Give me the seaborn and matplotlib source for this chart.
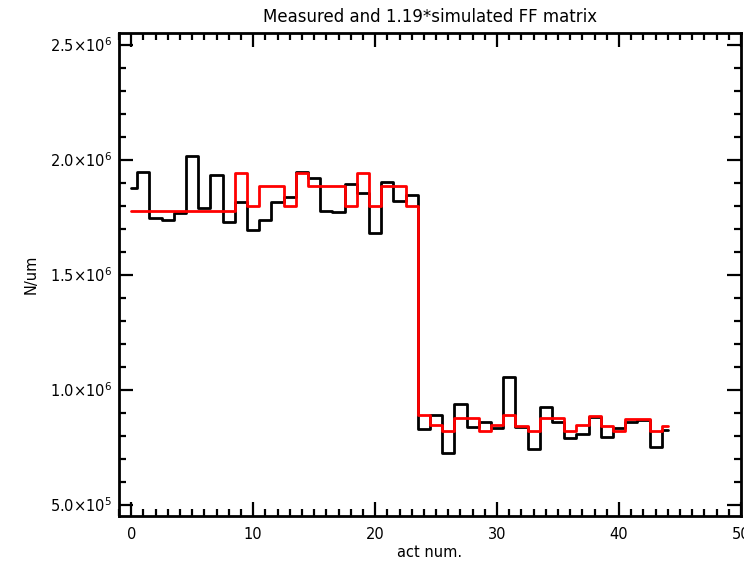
import matplotlib
matplotlib.use("Agg")
import matplotlib.pyplot as plt
import seaborn as sns
import pandas as pd
import numpy as np
from matplotlib.ticker import MultipleLocator, FixedLocator

# ---- data ----
act = list(range(45))
measured = [1.876, 1.946, 1.746, 1.737, 1.767, 2.015, 1.789, 1.933, 1.728, 1.815,
            1.693, 1.735, 1.817, 1.838, 1.944, 1.918, 1.777, 1.772, 1.892, 1.853,
            1.679, 1.903, 1.820, 1.846, 0.827, 0.889, 0.723, 0.936, 0.838, 0.860,
            0.831, 1.053, 0.838, 0.740, 0.926, 0.860, 0.788, 0.807, 0.882, 0.792,
            0.831, 0.860, 0.867, 0.749, 0.824]
simulated = [1.777, 1.777, 1.777, 1.777, 1.777, 1.777, 1.777, 1.777, 1.777, 1.941,
             1.798, 1.885, 1.885, 1.799, 1.941, 1.885, 1.885, 1.885, 1.799, 1.941,
             1.799, 1.885, 1.885, 1.799, 0.889, 0.846, 0.821, 0.875, 0.875, 0.821,
             0.846, 0.889, 0.841, 0.821, 0.875, 0.875, 0.821, 0.846, 0.886, 0.843,
             0.821, 0.870, 0.870, 0.821, 0.843]
scale = 1e6
ytick_vals = [5.0e5, 1.0e6, 1.5e6, 2.0e6, 2.5e6]
ytick_labels = [r"5.0$\times$10$^{5}$", r"1.0$\times$10$^{6}$", r"1.5$\times$10$^{6}$",
                r"2.0$\times$10$^{6}$", r"2.5$\times$10$^{6}$"]
xtick_vals = [0, 10, 20, 30, 40, 50]
title = "Measured and 1.19*simulated FF matrix"
xlabel = "act num."
ylabel = "N/um"

df = pd.DataFrame({
    "act": act * 2,
    "value": [v * scale for v in measured] + [v * scale for v in simulated],
    "series": ["measured"] * len(act) + ["simulated"] * len(act),
})

sns.set_theme(style="white")
plt.rcParams["font.family"] = ["DejaVu Sans"]
plt.rcParams.update({"text.color": "black", "axes.labelcolor": "black",
                     "xtick.color": "black", "ytick.color": "black"})

fig = plt.figure(figsize=(7.44, 5.62), dpi=100)
ax = fig.add_axes([119 / 744, 46 / 562, (741 - 119) / 744, (516 - 33) / 562])

sns.lineplot(data=df, x="act", y="value", hue="series",
             palette={"measured": "black", "simulated": "#ff0000"},
             drawstyle="steps-mid", linewidth=2.0, legend=False, ax=ax,
             estimator=None, sort=True)

ax.set_xlim(-1, 50)
ax.set_ylim(4.5e5, 2.55e6)

ax.xaxis.set_major_locator(FixedLocator(xtick_vals))
ax.xaxis.set_minor_locator(MultipleLocator(1))
ax.yaxis.set_major_locator(FixedLocator(ytick_vals))
ax.yaxis.set_minor_locator(MultipleLocator(1e5))
ax.set_yticklabels(ytick_labels)
ax.set_xticklabels([str(v) for v in xtick_vals])

ax.tick_params(which="both", direction="in", top=True, right=True,
               bottom=True, left=True, color="black", width=1.6,
               labelcolor="black")
ax.tick_params(which="major", length=10)
ax.tick_params(which="minor", length=5)
ax.tick_params(axis="x", which="major", pad=8, labelsize=10.5)
ax.tick_params(axis="y", which="major", pad=5, labelsize=10.5)

for s in ax.spines.values():
    s.set_color("black")
    s.set_linewidth(2)

ax.set_xlabel(xlabel, fontsize=10.5, labelpad=2, color="black")
ax.set_ylabel(ylabel, fontsize=10.5, labelpad=8, color="black")
ax.set_title(title, fontsize=12, pad=8, color="black")
ax.grid(False)

fig.savefig("out.png", dpi=100)
